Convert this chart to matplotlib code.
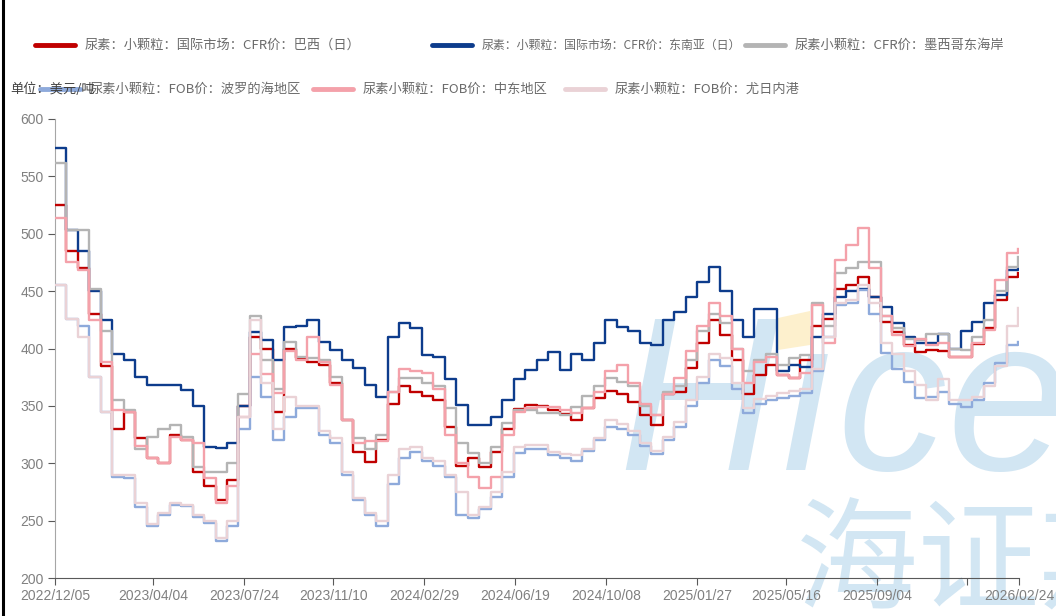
import numpy as np
import pandas as pd
import matplotlib
matplotlib.use("Agg")
import matplotlib.pyplot as plt
from matplotlib.lines import Line2D
from matplotlib.patches import Polygon

plt.rcParams['font.family'] = ['Noto Sans CJK SC', 'DejaVu Sans']

# 两周一个点
dates = pd.date_range('2022-12-05', periods=85, freq='14D')

brazil = [525, 485, 470, 430, 385, 330, 345, 322, 305, 300, 325, 320, 292, 280, 268, 285, 350,
          410, 400, 345, 400, 392, 388, 386, 370, 338, 310, 301, 320, 352, 367, 362, 359, 355,
          332, 298, 305, 297, 310, 330, 347, 351, 350, 346, 343, 338, 348, 357, 363, 360, 353,
          342, 333, 360, 362, 383, 405, 425, 412, 390, 360, 377, 386, 377, 374, 390, 420, 426,
          452, 455, 462, 445, 423, 414, 403, 397, 399, 398, 393, 393, 404, 418, 442, 462, 466]
sea = [575, 503, 485, 450, 425, 395, 390, 375, 368, 368, 368, 364, 350, 314, 313, 318, 350,
       414, 407, 390, 419, 420, 425, 406, 399, 390, 383, 368, 358, 410, 422, 418, 394, 393,
       373, 351, 333, 333, 340, 355, 373, 381, 390, 397, 381, 395, 390, 405, 425, 419, 415,
       405, 403, 425, 432, 445, 458, 471, 450, 425, 410, 434, 434, 380, 386, 384, 410, 430,
       445, 450, 452, 445, 436, 422, 410, 405, 405, 413, 400, 415, 423, 440, 447, 468, 470]
mexico = [562, 503, 503, 452, 415, 355, 346, 312, 323, 330, 333, 323, 297, 292, 292, 300, 360,
          428, 390, 365, 406, 393, 392, 390, 375, 338, 322, 312, 325, 362, 374, 374, 370, 367,
          348, 318, 309, 300, 314, 335, 346, 346, 344, 344, 342, 349, 359, 367, 374, 371, 367,
          350, 342, 362, 367, 390, 415, 430, 422, 400, 380, 390, 395, 386, 392, 394, 440, 420,
          466, 470, 475, 475, 428, 418, 408, 407, 413, 413, 400, 399, 410, 425, 450, 471, 480]
baltic = [455, 426, 420, 375, 345, 288, 287, 262, 245, 255, 264, 263, 253, 248, 232, 245, 330,
          375, 358, 320, 340, 348, 348, 325, 318, 290, 268, 255, 245, 282, 305, 310, 302, 298,
          288, 255, 252, 260, 271, 288, 309, 312, 312, 307, 305, 302, 311, 320, 332, 330, 325,
          315, 308, 320, 332, 350, 370, 390, 385, 365, 344, 352, 355, 357, 359, 361, 380, 410,
          438, 440, 451, 430, 396, 382, 371, 357, 358, 362, 352, 349, 355, 370, 387, 403, 406]
mideast = [514, 475, 468, 425, 388, 346, 345, 315, 305, 300, 323, 320, 318, 287, 265, 280, 340,
           395, 378, 361, 398, 390, 410, 388, 368, 338, 318, 319, 319, 362, 382, 380, 379, 365,
           325, 300, 288, 278, 288, 325, 345, 348, 349, 349, 346, 344, 348, 362, 380, 386, 370,
           352, 342, 360, 374, 398, 420, 440, 428, 400, 370, 388, 393, 377, 374, 379, 438, 405,
           477, 490, 505, 470, 428, 412, 402, 408, 403, 405, 393, 393, 405, 416, 460, 483, 487]
yuzhny = [455, 426, 410, 375, 345, 290, 290, 265, 247, 257, 265, 264, 255, 250, 235, 250, 340,
          425, 370, 330, 358, 350, 350, 328, 322, 292, 270, 257, 250, 290, 312, 314, 305, 302,
          290, 275, 255, 262, 275, 292, 314, 316, 316, 310, 308, 307, 312, 322, 338, 334, 328,
          318, 311, 323, 336, 355, 375, 395, 392, 370, 348, 356, 359, 361, 363, 365, 382, 410,
          440, 442, 455, 440, 405, 395, 380, 368, 355, 373, 355, 355, 358, 367, 385, 420, 435]

series = [brazil, sea, mexico, baltic, mideast, yuzhny]
labels = ['尿素：小颗粒：国际市场：CFR价：巴西（日）',
          '尿素：小颗粒：国际市场：CFR价：东南亚（日）',
          '尿素小颗粒：CFR价：墨西哥东海岸',
          '尿素小颗粒：FOB价：波罗的海地区',
          '尿素小颗粒：FOB价：中东地区',
          '尿素小颗粒：FOB价：尤日内港']
colors = ['#c00000', '#0d3c8c', '#b4b4b4', '#8eaadb', '#f4a1aa', '#ead2d6']

tick_dates = ['2022-12-05', '2023-04-04', '2023-07-24', '2023-11-10', '2024-02-29', '2024-06-19',
              '2024-10-08', '2025-01-27', '2025-05-16', '2025-09-04', '2025-12-23', '2026-02-24']
tick_labels = ['2022/12/05', '2023/04/04', '2023/07/24', '2023/11/10', '2024/02/29', '2024/06/19',
               '2024/10/08', '2025/01/27', '2025/05/16', '2025/09/04', '', '2026/02/24']

W, H = 1056, 616
fig = plt.figure(figsize=(W / 100, H / 100), dpi=100)
ax = fig.add_axes([55 / W, 1 - 578 / H, 964 / W, 459 / H])

def fx(px):
    return px / W

def fy(py):
    return 1 - py / H

# 水印（放在坐标轴后面）
fig.text(fx(618), fy(470), 'H\u0131cend', fontsize=158, family='Liberation Sans', style='italic',
         color='#d2e6f3', zorder=-5, va='baseline', ha='left')
fig.text(fx(796), fy(600), '海证期货', fontsize=88, color='#d2e6f3', zorder=-5,
         va='baseline', ha='left')
fig.patches.append(Polygon([(fx(778), fy(318)), (fx(810), fy(311)), (fx(810), fy(345)),
                            (fx(778), fy(350))], closed=True, transform=fig.transFigure,
                           facecolor='#fdf0cd', edgecolor='none', zorder=-5))
ax.patch.set_alpha(0)

for vals, c, lab in zip(series, colors, labels):
    ax.step(dates, vals, where='post', color=c, lw=1.7, label=lab, zorder=3)

ax.set_xlim(pd.Timestamp('2022-12-05'), pd.Timestamp('2026-02-24'))
ax.set_ylim(200, 600)
ax.set_yticks(range(200, 601, 50))
ax.set_xticks(pd.to_datetime(tick_dates))
ax.set_xticklabels(tick_labels)

for s in ['top', 'right']:
    ax.spines[s].set_visible(False)
ax.spines['left'].set_color('#a6a6a6')
ax.spines['bottom'].set_color('#595959')
ax.tick_params(axis='y', colors='#808080', length=5, labelsize=10, pad=3)
ax.tick_params(axis='x', colors='#595959', length=5, labelsize=10, pad=3, labelcolor='#808080')
ax.tick_params(axis='y', color='#595959')
for t in ax.get_xticklabels() + ax.get_yticklabels():
    t.set_family('Liberation Sans')

# 图例
handle_pos = [(35, 45), (432, 45), (745, 45), (40, 89), (313, 89), (565, 89)]
text_size = [9.5, 8.6, 9.5, 9.5, 9.5, 9.5]
for (hx, hy), c, lab, fs in zip(handle_pos, colors, labels, text_size):
    fig.add_artist(Line2D([fx(hx), fx(hx + 40)], [fy(hy), fy(hy)], color=c, lw=3.5,
                          solid_capstyle='round', transform=fig.transFigure))
    fig.text(fx(hx + 50), fy(hy), lab, fontsize=fs, color='#6b6b6b', va='center', ha='left')

fig.text(fx(10), fy(89), '单位：美元/吨', fontsize=9.5, color='#404040', va='center', ha='left')

fig.add_artist(Line2D([fx(2.5), fx(2.5)], [0, 1], color='black', lw=2.2,
                      transform=fig.transFigure))

fig.savefig('out.png', dpi=100)
